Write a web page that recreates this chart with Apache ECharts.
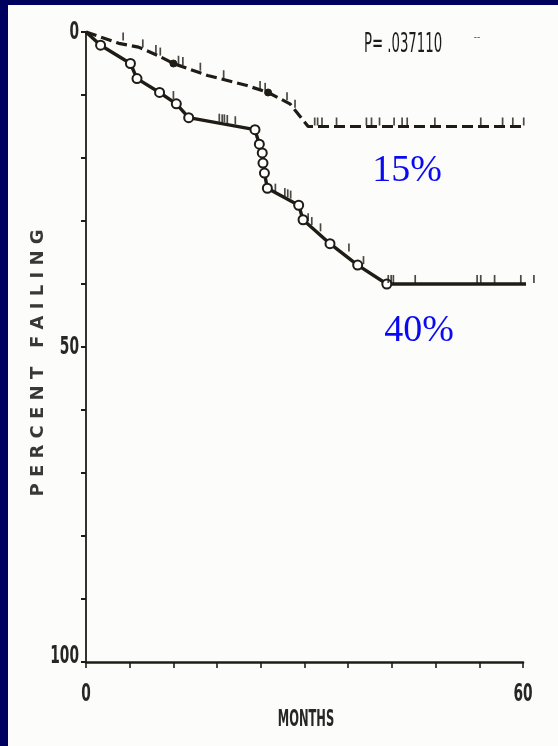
<!DOCTYPE html>
<html>
<head>
<meta charset="utf-8">
<script src="https://cdn.jsdelivr.net/npm/echarts@6/dist/echarts.min.js"></script>
<style>
  html, body { margin: 0; padding: 0; width: 558px; height: 746px; background: #00005f; overflow: hidden; }
  #chart { position: absolute; left: 8px; top: 5px; width: 550px; height: 741px; background: #fcfcfb; }
</style>
</head>
<body>
<div id="chart"></div>
<script>
// Time axis (months) and y-axis (percent failing, 0 at top)
const xTickLabels = [0, 60];
const yTickLabels = [0, 50, 100];

// Group with the lower failure rate (dashed curve)
const dashMonths = [0, 2.0, 4.5, 7.2, 9.8, 12.0, 16.7, 22.1, 25.0, 28.0, 30.5, 60.1];
const dashPct    = [0, 0.8, 1.8, 2.4, 3.7, 5.0, 6.9, 8.5, 9.6, 11.4, 15, 15];
const dashDots   = [5, 8];          // indices drawn as filled event dots
const dashCensMonths = [5.1, 7.8, 9.6, 10.2, 12.7, 13.3, 15.7, 18.9, 23.9, 24.6, 27.6, 28.7,
  31.4, 31.8, 32.4, 34.4, 38.5, 39.2, 40.3, 42.3, 43.4, 44.1, 47.9, 54.2, 57.2, 58.6, 60.1];
const dashCensPct = [1.5, 2.6, 3.5, 3.9, 5.2, 5.4, 6.3, 7.5, 9.2, 9.5, 11.0, 12.2,
  15, 15, 15, 15, 15, 15, 15, 15, 15, 15, 15, 15, 15, 15, 15];

// Group with the higher failure rate (solid curve with open circles)
const solidMonths = [0, 2.0, 6.1, 7.0, 10.1, 12.4, 14.1, 23.2, 23.8, 24.2, 24.3, 24.5, 24.9,
  29.2, 29.8, 33.5, 37.3, 41.3, 61.5];
const solidPct = [0, 2.1, 5.0, 7.4, 9.6, 11.4, 13.6, 15.5, 17.8, 19.2, 20.8, 22.4, 24.8,
  27.5, 29.8, 33.6, 37.0, 40, 40];
const solidCensMonths = [12.0, 18.3, 18.7, 19.0, 19.4, 20.5, 26.0, 27.3, 27.7, 28.1, 30.5, 31.0,
  32.2, 36.1, 38.1, 41.5, 41.9, 42.2, 45.2, 53.7, 54.2, 56.1, 59.7, 61.5];
const solidCensPct = [10.8, 14.4, 14.5, 14.5, 14.6, 14.8, 25.5, 26.2, 26.4, 26.6, 30.2, 30.8,
  31.8, 35.0, 37.0, 40, 40, 40, 40, 40, 40, 40, 40, 40];

const pValueText = 'P= .037110';
const lowPlateau = 15;
const highPlateau = 40;

const ink = '#1f1c16';
const textInk = '#262626';
const condensed = "'DejaVu Sans Condensed', 'Liberation Sans Narrow', sans-serif";
const serif = "'Liberation Serif', 'DejaVu Serif', serif";

const zip = (a, b) => a.map((v, i) => [v, b[i]]);

const solidData = solidMonths.map((m, i) => {
  const last = i === 0 || i === solidMonths.length - 1;
  return { value: [m, solidPct[i]], symbol: last ? 'none' : 'circle' };
});
const dashData = dashMonths.map((m, i) => ({
  value: [m, dashPct[i]],
  symbol: dashDots.includes(i) ? 'circle' : 'none'
}));

const chart = echarts.init(document.getElementById('chart'), null, { renderer: 'canvas' });

// Titles and annotations (tall, condensed lettering)
const baseGraphic = [
  {
    type: 'text', x: 30, y: 358, rotation: Math.PI / 2,
    style: {
      text: 'P E R C E N T   F A I L I N G',
      fontSize: 18, fontWeight: 'bold', fontFamily: "'DejaVu Sans', sans-serif",
      fill: '#383838', align: 'center', verticalAlign: 'middle'
    }
  },
  {
    type: 'text', x: 298, y: 715, scaleX: 0.85, scaleY: 1.55,
    style: {
      text: 'MONTHS', fontSize: 15, fontWeight: 'bold', fontFamily: condensed,
      fill: textInk, align: 'center', verticalAlign: 'middle'
    }
  },
  {
    type: 'text', x: 395, y: 40, scaleX: 0.82, scaleY: 1.5,
    style: {
      text: pValueText, fontSize: 18, fontFamily: condensed,
      fill: '#1c1c1c', align: 'center', verticalAlign: 'middle'
    }
  },
  {
    type: 'text', x: 469, y: 32,
    style: { text: '--', fontSize: 10, fontFamily: condensed, fill: '#555', align: 'center', verticalAlign: 'middle' }
  },
  {
    type: 'text', x: 399, y: 166,
    style: {
      text: lowPlateau + '%', fontSize: 38, fontFamily: serif,
      fill: '#0a0af2', align: 'center', verticalAlign: 'middle'
    }
  },
  {
    type: 'text', x: 411, y: 326,
    style: {
      text: highPlateau + '%', fontSize: 38, fontFamily: serif,
      fill: '#0a0af2', align: 'center', verticalAlign: 'middle'
    }
  }
];

chart.setOption({
  backgroundColor: '#fcfcfb',
  animation: false,
  grid: { left: 78, right: 35, top: 27, bottom: 84, containLabel: false },
  xAxis: {
    type: 'value', min: 0, max: 60, interval: 6,
    axisLine: { onZero: false, lineStyle: { color: ink, width: 2.6 } },
    axisTick: { show: true, length: 6, lineStyle: { color: ink, width: 1.6 } },
    splitLine: { show: false },
    axisLabel: { show: false }
  },
  yAxis: {
    type: 'value', min: 0, max: 100, interval: 10, inverse: true,
    axisLine: { onZero: false, lineStyle: { color: ink, width: 1.8 } },
    axisTick: { show: true, length: 5, lineStyle: { color: ink, width: 2 } },
    splitLine: { show: false },
    axisLabel: { show: false }
  },
  series: [
    {
      type: 'line', data: dashData, clip: false,
      lineStyle: { color: ink, width: 3.2, type: [11, 5] },
      symbolSize: 7, itemStyle: { color: ink, borderColor: ink },
      z: 3
    },
    {
      type: 'line', data: solidData, clip: false,
      lineStyle: { color: ink, width: 3.4 },
      symbolSize: 9,
      itemStyle: { color: '#ffffff', borderColor: ink, borderWidth: 2 },
      z: 4
    },
    {
      type: 'scatter', data: zip(dashCensMonths, dashCensPct), clip: false,
      symbol: 'rect', symbolSize: [1.7, 8], symbolOffset: [0, -5],
      itemStyle: { color: ink }, z: 5
    },
    {
      type: 'scatter', data: zip(solidCensMonths, solidCensPct), clip: false,
      symbol: 'rect', symbolSize: [1.7, 8], symbolOffset: [0, -5],
      itemStyle: { color: ink }, z: 5
    }
  ],
  graphic: baseGraphic
});

// Tick labels placed through the axes' own scales
const toPx = (x, y) => chart.convertToPixel({ gridIndex: 0 }, [x, y]);
const axisX = toPx(0, 0)[0];
const axisBottom = toPx(0, 100)[1];
const tickLabels = [];
yTickLabels.forEach(v => {
  tickLabels.push({
    type: 'text', x: axisX - 7, y: toPx(0, v)[1] + (v === 100 ? -6 : 0), scaleX: 0.85, scaleY: 1.4,
    style: { text: String(v), fontSize: 18, fontWeight: 'bold', fontFamily: condensed, fill: textInk, align: 'right', verticalAlign: 'middle' }
  });
});
xTickLabels.forEach(v => {
  tickLabels.push({
    type: 'text', x: toPx(v, 100)[0], y: axisBottom + 32, scaleX: 0.85, scaleY: 1.4,
    style: { text: String(v), fontSize: 18, fontWeight: 'bold', fontFamily: condensed, fill: textInk, align: 'center', verticalAlign: 'middle' }
  });
});
chart.setOption({ graphic: baseGraphic.concat(tickLabels) });
</script>
</body>
</html>
